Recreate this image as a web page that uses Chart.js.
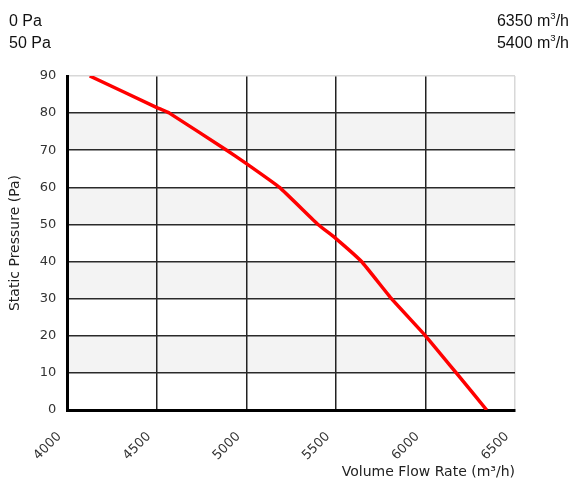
<!DOCTYPE html>
<html>
<head>
<meta charset="utf-8">
<script src="https://cdn.jsdelivr.net/npm/chart.js@4.4.1/dist/chart.umd.min.js"></script>
<style>
  body { margin: 0; background: #fff; }
  #wrap { position: relative; width: 571px; height: 479px; }
  .hdr { position: absolute; top: 10px; font-family: 'Liberation Sans', Arial, sans-serif; font-size: 16px; line-height: 22px; color: #111; }
  .hdr sup { font-size: 0.6em; line-height: 0; vertical-align: 0.75em; }
  #left { left: 9px; }
  #right { right: 2px; text-align: right; }
</style>
</head>
<body>
<div id="wrap">
  <canvas id="curva" width="571" height="479"></canvas>
  <div class="hdr" id="left">0 Pa<br>50 Pa</div>
  <div class="hdr" id="right">6350 m<sup>3</sup>/h<br>5400 m<sup>3</sup>/h</div>
</div>
<script>
const caudal = [4125, 4500, 4570, 4890, 5000, 5185, 5400, 5500, 5643, 5810, 6000, 6172, 6342]
const presion = [90, 81.5, 80, 70, 66.4, 60, 50, 46.2, 40, 30, 20, 10, 0]
const xTicks = [4000, 4500, 5000, 5500, 6000, 6500]
const yTicks = [0, 10, 20, 30, 40, 50, 60, 70, 80, 90]

const puntos = caudal.map((c, i) => ({ x: c, y: presion[i] }))

// franjas grises alternas entre las lineas horizontales
const franjas = {
  id: 'franjas',
  beforeDraw(chart) {
    const { ctx, chartArea, scales } = chart
    ctx.save()
    ctx.fillStyle = '#f3f3f3'
    for (let v = 10; v < 90; v += 20) {
      const top = scales.y.getPixelForValue(v + 10)
      const bot = scales.y.getPixelForValue(v)
      ctx.fillRect(chartArea.left, top, chartArea.right - chartArea.left, bot - top)
    }
    ctx.restore()
  }
}

const fuente = { family: "'DejaVu Sans', sans-serif", size: 13 }
const fuenteTitulo = { family: "'DejaVu Sans', sans-serif", size: 14 }

new Chart(document.getElementById('curva'), {
  type: 'line',
  data: {
    datasets: [{
      data: puntos,
      borderColor: '#ff0000',
      borderWidth: 3.5,
      pointRadius: 0,
      tension: 0.1,
      fill: false
    }]
  },
  options: {
    responsive: false,
    animation: false,
    layout: { padding: { top: 76, right: 56, left: 7, bottom: 0 } },
    plugins: { legend: { display: false }, tooltip: { enabled: false } },
    scales: {
      x: {
        type: 'linear',
        min: 4000,
        max: 6500,
        afterBuildTicks: s => { s.ticks = xTicks.map(v => ({ value: v })) },
        afterFit: s => { s.height = 69 },
        ticks: {
          font: fuente,
          color: '#333',
          maxRotation: 45,
          minRotation: 45,
          padding: 19,
          labelOffset: -8,
          callback: v => String(v)
        },
        grid: {
          drawTicks: false,
          lineWidth: 1.5,
          color: c => c.tick && c.tick.value === 6500 ? '#d8d8d8' : '#222'
        },
        border: { display: true, color: '#000', width: 3 },
        title: {
          display: true,
          text: 'Volume Flow Rate (m³/h)',
          align: 'end',
          font: fuenteTitulo,
          color: '#222',
          padding: { top: 0, bottom: -2 }
        }
      },
      y: {
        min: 0,
        max: 90,
        afterBuildTicks: s => { s.ticks = yTicks.map(v => ({ value: v })) },
        ticks: { font: fuente, color: '#333', padding: 11, callback: v => String(v) },
        grid: {
          drawTicks: false,
          lineWidth: 1.5,
          color: c => c.tick && c.tick.value === 90 ? '#d8d8d8' : '#2a2a2a'
        },
        border: { display: true, color: '#000', width: 3 },
        title: {
          display: true,
          text: 'Static Pressure (Pa)',
          font: fuenteTitulo,
          color: '#222',
          padding: { top: 0, bottom: 5 }
        }
      }
    }
  },
  plugins: [franjas]
})
</script>
</body>
</html>
